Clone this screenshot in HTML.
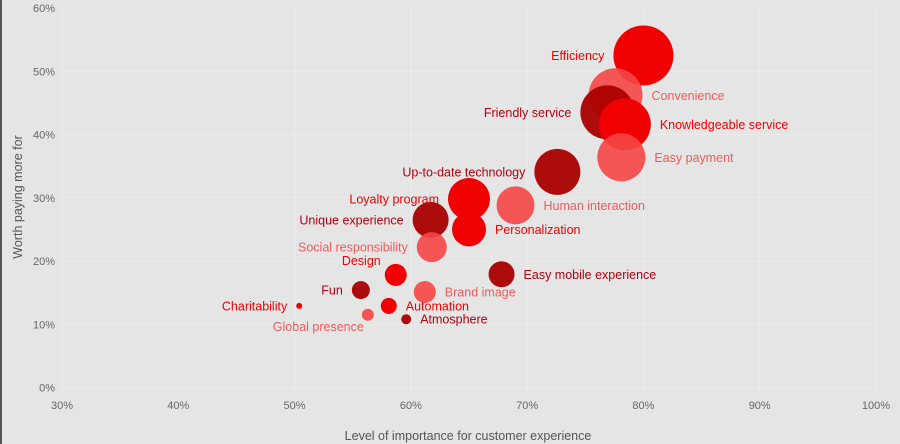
<!DOCTYPE html>
<html><head><meta charset="utf-8"><style>
html,body{margin:0;padding:0;background:#e5e5e5;}
svg{display:block;font-family:"Liberation Sans",Arial,sans-serif;}
</style></head><body>
<svg id="chart" width="900" height="444" viewBox="0 0 900 444" xmlns="http://www.w3.org/2000/svg">
<rect x="0" y="0" width="900" height="444" fill="#e5e5e5"/>
<rect x="0" y="0" width="2" height="444" fill="#555"/>
<g id="grid"></g>
<g id="ticks"></g>
<g id="bubbles"></g>
<g id="labels"></g>
<text x="468" y="440" text-anchor="middle" font-size="12.5" fill="#555">Level of importance for customer experience</text>
<text transform="translate(22,197) rotate(-90)" text-anchor="middle" font-size="12.5" fill="#555">Worth paying more for</text>
</svg>
<script>
const names=["Efficiency","Convenience","Friendly service","Knowledgeable service","Easy payment","Up-to-date technology","Human interaction","Loyalty program","Unique experience","Personalization","Social responsibility","Design","Easy mobile experience","Brand image","Fun","Automation","Charitability","Global presence","Atmosphere"];
const importance=[80,77.6,76.9,78.4,78.1,72.6,69,65,61.7,65,61.8,58.7,67.8,61.2,55.7,58.1,50.4,56.3,59.6];
const worth=[52.5,46.2,43.5,41.6,36.4,34.1,28.8,29.8,26.5,25,22.2,17.8,17.9,15.1,15.4,12.9,12.9,11.5,10.8];
const sizes=[30,27,27,26,24,23,19,21,18,17,15,11,13,11,9,8,3,6,5];
const tones=["b","l","d","b","l","d","l","b","d","b","l","b","d","l","d","b","b","l","d"];
const sides=["L","R","L","R","R","L","R","L","L","R","L","TL","R","R","L","R","L","BL","R"];
const xTicks=[30,40,50,60,70,80,90,100];
const yTicks=[0,10,20,30,40,50,60];

const X0=62,X1=876,Y0=387.5,Y1=8;
const xs=v=>X0+(v-30)/70*(X1-X0);
const ys=v=>Y0-(v/60)*(Y0-Y1);
const rs=v=>v;
const fill={b:"#f00000",l:"rgba(245,70,70,0.9)",d:"rgba(170,0,0,0.95)"};
const tcol={b:"#f00000",l:"#f25a5a",d:"#b3000f"};
const NS="http://www.w3.org/2000/svg";
function mk(tag,attrs,parent){const e=document.createElementNS(NS,tag);for(const k in attrs)e.setAttribute(k,attrs[k]);parent.appendChild(e);return e;}
const grid=document.getElementById("grid"),ticks=document.getElementById("ticks");
xTicks.forEach(t=>{
  const l=mk("line",{x1:xs(t),x2:xs(t),y1:Y1,y2:Y0+8,stroke:"#ececec","stroke-width":1},grid);
  
  
  const tx=mk("text",{x:xs(t),y:409,"text-anchor":"middle","font-size":11,fill:"#666"},ticks);
  tx.textContent=t+"%";
  
  
});
yTicks.forEach(t=>{
  const l=mk("line",{x1:X0,x2:X1,y1:ys(t),y2:ys(t),stroke:"#ececec","stroke-width":1},grid);
  
  
  const tx=mk("text",{x:55,y:ys(t)+4,"text-anchor":"end","font-size":11,fill:"#666"},ticks);
  tx.textContent=t+"%";
  
  
});
const bg=document.getElementById("bubbles"),lg=document.getElementById("labels");
names.forEach((n,i)=>{
  const cx=xs(importance[i]),cy=ys(worth[i]),r=rs(sizes[i]);
  const c=mk("circle",{cx:cx,cy:cy,r:r,fill:fill[tones[i]]},bg);
  
  
  let x,y=cy+4.5,anchor;
  const s=sides[i];
  if(s==="L"){x=cx-r-9;anchor="end";}
  else if(s==="R"){x=cx+r+9;anchor="start";}
  else if(s==="TL"){x=cx-15;y=cy-10;anchor="end";}
  else {x=cx-4;y=cy+16;anchor="end";}
  const t=mk("text",{x:x,y:y,"text-anchor":anchor,"font-size":12.5,fill:tcol[tones[i]]},lg);
  t.textContent=n;
  
  
});
</script>
</body></html>
